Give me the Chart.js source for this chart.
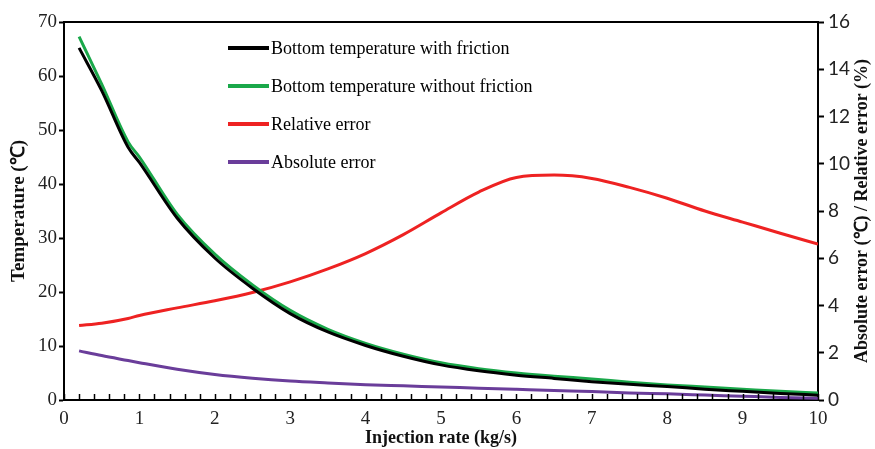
<!DOCTYPE html>
<html>
<head>
<meta charset="utf-8">
<script src="https://cdn.jsdelivr.net/npm/chart.js@4.4.0/dist/chart.umd.min.js"></script>
<style>
  html, body { margin: 0; padding: 0; background: #fff; }
  #wrap { width: 875px; height: 449px; position: relative; }
</style>
</head>
<body>
<div id="wrap"><canvas id="chart"></canvas></div>
<script>
// injection rate (kg/s)
const rates = [0.2, 0.5, 0.85, 1, 1.5, 2, 2.5, 3, 3.5, 4, 4.5, 5, 5.5, 6, 6.5, 7, 7.5, 8, 8.5, 9, 9.5, 10];
// bottom temperature (℃), left axis
const withFriction    = [65.2, 57.3, 46.8, 44.0, 33.7, 26.3, 20.7, 16.0, 12.6, 10.1, 8.1, 6.5, 5.4, 4.6, 4.0, 3.4, 2.9, 2.5, 2.0, 1.6, 1.2, 0.9];
const withoutFriction = [67.3, 58.5, 47.8, 45.0, 34.4, 27.0, 21.3, 16.6, 13.1, 10.5, 8.5, 6.9, 5.8, 5.0, 4.4, 3.9, 3.3, 2.8, 2.4, 2.0, 1.6, 1.3];
// errors, right axis
const relativeError = [3.15, 3.25, 3.45, 3.58, 3.9, 4.2, 4.55, 5.0, 5.55, 6.2, 7.0, 7.92, 8.8, 9.42, 9.52, 9.38, 9.0, 8.54, 8.0, 7.53, 7.06, 6.6];
const absoluteError = [2.08, 1.88, 1.67, 1.58, 1.3, 1.08, 0.92, 0.8, 0.72, 0.65, 0.6, 0.55, 0.5, 0.45, 0.4, 0.36, 0.3, 0.26, 0.21, 0.16, 0.11, 0.07];

const seriesNames = ['Bottom temperature with friction', 'Bottom temperature without friction', 'Relative error', 'Absolute error'];
const seriesColors = ['#000000', '#1aa84a', '#ee2222', '#6a3d9a'];
const leftTitle = 'Temperature (℃)';
const rightTitle = 'Absolute error (℃) / Relative error (%)';

const serif = '"Liberation Serif", "Times New Roman", serif';
const pts = ys => rates.map((x, i) => ({ x, y: ys[i] }));

function line(i, ys, axis) {
  return { label: seriesNames[i], data: pts(ys), yAxisID: axis, borderColor: seriesColors[i], backgroundColor: seriesColors[i],
    borderWidth: 3, pointRadius: 0, fill: false, cubicInterpolationMode: 'monotone' };
}

// frame top line, inward minor ticks on x axis, y titles, legend inside plot
const decor = {
  id: 'decor',
  afterDraw(chart) {
    const { ctx, chartArea: a, scales } = chart;
    ctx.save();
    ctx.strokeStyle = '#000';
    ctx.lineWidth = 2;
    ctx.beginPath(); ctx.moveTo(a.left, a.top); ctx.lineTo(a.right, a.top); ctx.stroke();
    ctx.lineWidth = 1.5;
    for (let v = 0; v <= 10.001; v += 0.2) {
      const px = Math.round(scales.x.getPixelForValue(v)) + 0.5;
      ctx.beginPath(); ctx.moveTo(px, a.bottom); ctx.lineTo(px, a.bottom - 6); ctx.stroke();
    }
    // axis titles, both read bottom to top
    ctx.fillStyle = '#111';
    ctx.textAlign = 'center';
    ctx.textBaseline = 'middle';
    const midY = (a.top + a.bottom) / 2;
    [[leftTitle, 19, 19], [rightTitle, 18, 862]].forEach(([t, size, x]) => {
      ctx.save();
      ctx.translate(x, midY);
      ctx.rotate(-Math.PI / 2);
      ctx.font = 'bold ' + size + 'px ' + serif;
      ctx.fillText(t, 0, 0);
      ctx.restore();
    });
    // legend
    ctx.font = '18px ' + serif;
    ctx.textAlign = 'left';
    ctx.fillStyle = '#000';
    seriesNames.forEach((name, i) => {
      const y = 48 + i * 38;
      ctx.strokeStyle = seriesColors[i];
      ctx.lineWidth = 4;
      ctx.beginPath(); ctx.moveTo(228, y); ctx.lineTo(269, y); ctx.stroke();
      ctx.fillText(name, 271, y + 1);
    });
    ctx.restore();
  }
};

new Chart(document.getElementById('chart'), {
  type: 'line',
  data: { datasets: [line(0, withFriction, 'y'), line(1, withoutFriction, 'y'), line(2, relativeError, 'y1'), line(3, absoluteError, 'y1')] },
  options: {
    responsive: true, maintainAspectRatio: false, animation: false,
    layout: { padding: { top: 22, left: 0, right: 0, bottom: 0 } },
    plugins: { legend: { display: false }, tooltip: { enabled: false } },
    scales: {
      x: {
        type: 'linear', min: 0, max: 10,
        ticks: { stepSize: 1, color: '#222', font: { family: serif, size: 19 }, padding: 8, maxRotation: 0 },
        grid: { drawOnChartArea: false, drawTicks: false },
        border: { color: '#000', width: 2 },
        title: { display: true, text: 'Injection rate (kg/s)', color: '#111', font: { family: serif, size: 18, weight: 'bold' }, padding: { top: 2, bottom: 0 } },
        afterFit(s) { s.height = 49; }
      },
      y: {
        position: 'left', min: 0, max: 70,
        ticks: { stepSize: 10, color: '#222', font: { family: serif, size: 19 }, padding: 2 },
        grid: { drawOnChartArea: false, drawTicks: true, tickLength: 5, color: '#000', tickWidth: 2 },
        border: { color: '#000', width: 2 },
        afterFit(s) { s.width = 64; }
      },
      y1: {
        position: 'right', min: 0, max: 16,
        ticks: { stepSize: 2, color: '#222', font: { family: 'Lato, "Open Sans", sans-serif', size: 19 }, padding: 4 },
        grid: { drawOnChartArea: false, drawTicks: true, tickLength: 6, color: '#000', tickWidth: 2 },
        border: { color: '#000', width: 2 },
        afterFit(s) { s.width = 57; }
      }
    }
  },
  plugins: [decor]
});
</script>
</body>
</html>
